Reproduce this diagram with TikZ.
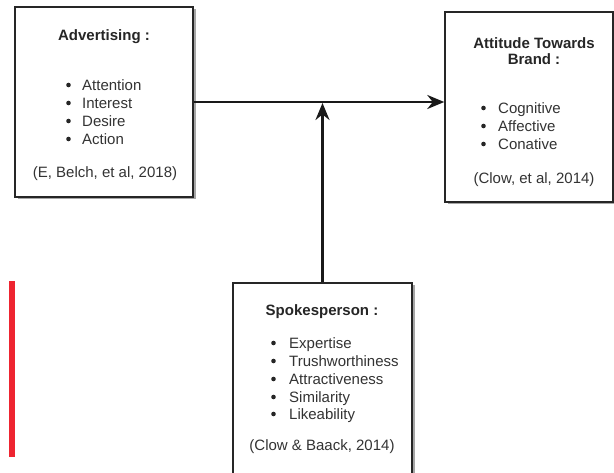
\documentclass[tikz,border=0pt]{standalone}
\usepackage{fontspec}
\setmainfont{Liberation Sans}
\usetikzlibrary{arrows.meta,shadows}
\definecolor{txt}{HTML}{333333}
\definecolor{redbar}{HTML}{EE2430}
\tikzset{
  box/.style={draw=black!85, line width=1.5pt, fill=white, inner sep=0pt,
    drop shadow={shadow xshift=2.5pt, shadow yshift=-2.5pt, fill=black!35, opacity=1}},
  title/.style={font=\fontsize{15}{16.5}\selectfont\bfseries, text=black!85, align=center},
  item/.style={font=\fontsize{15}{17}\selectfont, text=txt, anchor=west, inner sep=0pt,
    text height=12pt, text depth=1.4pt},
  bul/.style={circle, fill=black!85, inner sep=0pt, minimum size=4.6pt},
  cite/.style={font=\fontsize{15}{17}\selectfont, text=txt},
  conn/.style={line width=2.6pt, draw=black!90, -{Stealth[length=17pt,width=14pt]}}
}
\begin{document}
\begin{tikzpicture}[x=1pt,y=-1pt]
\useasboundingbox (0,0) rectangle (614,473);
\clip (0,0) rectangle (614,473);
% boxes
\node[box, minimum width=178pt, minimum height=190pt] (adv) at (104,102) {};
\node[box, minimum width=168pt, minimum height=190pt] (att) at (529,107) {};
\node[box, minimum width=179pt, minimum height=200pt] (spk) at (322.5,383) {};
% connectors
\draw[conn] (adv.east) -- (adv.east -| att.west);
\draw[conn] (spk.north) -- ([yshift=-1pt]spk.north |- adv.east);
% red bar
\fill[redbar] (9,281) rectangle (15,457);
% Advertising box text
\node[title] (advt) at (104,36.5) {Advertising :};
\foreach \y/\t/\n in {85/Attention/a1,103/Interest/a2,121/Desire/a3,139/Action/a4}{
  \node[bul] (\n b) at (68.5,\y) {};
  \node[item] (\n) at (82,\y) {\t};
}
\node[cite] (advc) at (105,173.5) {(E, Belch, et al, 2018)};
% Attitude box text
\node[title] (attt) at (534,51) {Attitude Towards\\Brand :};
\foreach \y/\t/\n in {108/Cognitive/b1,126/Affective/b2,144/Conative/b3}{
  \node[bul] (\n b) at (483.5,\y) {};
  \node[item] (\n) at (498,\y) {\t};
}
\node[cite] (attc) at (534,179.5) {(Clow, et al, 2014)};
% Spokesperson box text
\node[title] (spkt) at (322,311.5) {Spokesperson :};
\foreach \y/\t/\n in {343/Expertise/c1,361/Trushworthiness/c2,379/Attractiveness/c3,397/Similarity/c4,414/Likeability/c5}{
  \node[bul] (\n b) at (273.5,\y) {};
  \node[item] (\n) at (289,\y) {\t};
}
\node[cite] (spkc) at (322,446.5) {(Clow \& Baack, 2014)};
\end{tikzpicture}
\end{document}
